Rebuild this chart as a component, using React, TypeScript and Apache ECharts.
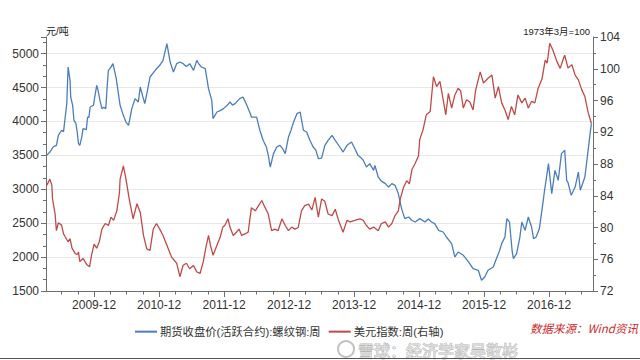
import React, { useEffect, useRef } from "react";
import * as echarts from "echarts";

// Rebar futures close (active contract), weekly, CNY/ton  [fractional year, value]
const rebarPrice: [number, number][] = [
  [2009.24,3500],[2009.29,3549],[2009.34,3623],[2009.39,3648],[2009.42,3795],[2009.47,3870],[2009.50,3850],[2009.52,4017],[2009.55,4267],[2009.57,4803],[2009.60,4606],[2009.61,4360],[2009.64,4238],[2009.66,4017],[2009.69,3972],[2009.71,3844],[2009.73,3673],[2009.75,3648],[2009.78,3770],[2009.80,3894],[2009.85,3880],[2009.87,4065],[2009.89,4060],[2009.91,4213],[2009.96,4238],[2009.98,4360],
  [2010.01,4533],[2010.03,4460],[2010.06,4311],[2010.09,4189],[2010.12,4210],[2010.15,4189],[2010.17,4500],[2010.19,4754],[2010.23,4800],[2010.26,4852],[2010.31,4636],[2010.37,4238],[2010.42,4090],[2010.46,3990],[2010.50,3943],[2010.55,4189],[2010.60,4337],[2010.65,4287],[2010.68,4508],[2010.71,4400],[2010.75,4263],[2010.79,4450],[2010.83,4655],[2010.91,4754],[2010.98,4828],
  [2011.03,4901],[2011.09,5147],[2011.14,4876],[2011.19,4729],[2011.24,4852],[2011.29,4876],[2011.34,4852],[2011.39,4810],[2011.44,4852],[2011.50,4754],[2011.55,4901],[2011.58,4850],[2011.62,4803],[2011.68,4779],[2011.73,4484],[2011.78,4311],[2011.80,4042],[2011.86,4139],[2011.91,4160],[2011.96,4189],
  [2012.01,4230],[2012.06,4287],[2012.10,4240],[2012.14,4263],[2012.21,4337],[2012.26,4360],[2012.32,4238],[2012.37,4120],[2012.39,4065],[2012.47,4065],[2012.52,3870],[2012.57,3722],[2012.62,3623],[2012.65,3500],[2012.68,3328],[2012.73,3526],[2012.78,3623],[2012.83,3648],[2012.87,3600],[2012.91,3526],[2012.96,3770],
  [2013.00,3870],[2013.03,3968],[2013.09,4115],[2013.14,4139],[2013.19,3870],[2013.24,3844],[2013.29,3722],[2013.34,3623],[2013.38,3580],[2013.42,3452],[2013.47,3460],[2013.52,3648],[2013.57,3722],[2013.63,3795],[2013.68,3722],[2013.75,3623],[2013.80,3549],[2013.86,3648],[2013.93,3697],[2013.98,3600],
  [2014.03,3500],[2014.07,3470],[2014.11,3427],[2014.16,3328],[2014.21,3378],[2014.27,3279],[2014.29,3353],[2014.34,3181],[2014.39,3120],[2014.45,3083],[2014.50,3033],[2014.55,3083],[2014.60,3058],[2014.65,2936],[2014.70,2715],[2014.75,2567],[2014.81,2591],[2014.86,2540],[2014.91,2517],[2014.98,2567],
  [2015.06,2517],[2015.11,2560],[2015.16,2517],[2015.21,2493],[2015.27,2395],[2015.34,2370],[2015.39,2296],[2015.47,2199],[2015.52,2001],[2015.57,2075],[2015.65,2026],[2015.73,1928],[2015.80,1830],[2015.88,1805],[2015.93,1658],[2015.98,1706],
  [2016.03,1805],[2016.11,1854],[2016.16,1978],[2016.21,2100],[2016.24,2199],[2016.29,2296],[2016.32,2567],[2016.36,2517],[2016.40,2100],[2016.42,1978],[2016.47,2051],[2016.52,2296],[2016.55,2517],[2016.60,2395],[2016.65,2591],[2016.70,2444],[2016.73,2272],[2016.77,2296],[2016.82,2420],[2016.88,2837],[2016.90,2985],[2016.96,3378],
  [2017.01,2936],[2017.06,3279],[2017.11,3132],[2017.16,3526],[2017.21,3574],[2017.24,3132],[2017.26,3100],[2017.31,2911],[2017.37,3033],[2017.42,3254],[2017.45,2985],[2017.52,3181],[2017.57,3574],[2017.60,3820],[2017.62,3968],
];

// US dollar index, weekly (right axis)  [fractional year, value]
const usdIndex: [number, number][] = [
  [2009.24,85.3],[2009.29,86.1],[2009.32,85.3],[2009.33,83.6],[2009.37,81.7],[2009.39,79.6],[2009.42,80.6],[2009.47,80.3],[2009.50,79.2],[2009.52,78.9],[2009.57,78.2],[2009.60,78.6],[2009.63,77.4],[2009.68,76.7],[2009.71,76.6],[2009.73,76.9],[2009.75,75.7],[2009.80,76.1],[2009.86,75.3],[2009.90,75.05],[2009.93,76.5],[2009.97,77.9],
  [2010.01,77.4],[2010.05,78.2],[2010.09,79.8],[2010.14,80.5],[2010.19,80.25],[2010.23,81.3],[2010.27,80.9],[2010.32,82.1],[2010.36,84.4],[2010.37,86.1],[2010.42,87.75],[2010.46,86.1],[2010.51,83.6],[2010.57,81.1],[2010.63,83.0],[2010.68,81.9],[2010.73,79.0],[2010.78,77.3],[2010.83,77.1],[2010.88,79.8],[2010.93,80.5],[2010.98,79.8],
  [2011.03,79.0],[2011.09,77.75],[2011.16,76.3],[2011.24,75.5],[2011.29,73.8],[2011.34,75.25],[2011.39,75.5],[2011.44,74.8],[2011.50,75.2],[2011.55,74.4],[2011.60,74.2],[2011.65,75.7],[2011.69,77.5],[2011.73,79.0],[2011.76,77.75],[2011.80,76.5],[2011.86,77.75],[2011.91,78.8],[2011.95,80.05],[2011.98,80.25],
  [2012.03,81.1],[2012.06,80.05],[2012.11,79.0],[2012.16,79.4],[2012.20,79.8],[2012.24,79.0],[2012.29,79.2],[2012.34,79.4],[2012.39,82.5],[2012.45,82.1],[2012.50,82.75],[2012.55,83.4],[2012.60,82.5],[2012.65,81.7],[2012.70,79.6],[2012.75,79.8],[2012.80,79.6],[2012.86,81.1],[2012.91,80.25],[2012.96,79.6],
  [2013.01,80.05],[2013.06,79.8],[2013.11,80.0],[2013.16,82.1],[2013.21,82.75],[2013.27,82.95],[2013.32,82.2],[2013.37,83.8],[2013.42,81.3],[2013.47,83.6],[2013.52,83.3],[2013.57,81.7],[2013.63,81.5],[2013.68,82.3],[2013.73,80.9],[2013.80,79.4],[2013.86,80.9],[2013.91,80.7],[2013.98,80.9],
  [2014.06,81.1],[2014.11,80.9],[2014.16,80.25],[2014.21,79.8],[2014.27,80.05],[2014.34,79.6],[2014.39,80.5],[2014.45,80.7],[2014.50,80.05],[2014.55,80.5],[2014.60,81.5],[2014.65,82.1],[2014.68,83.6],[2014.73,85.05],[2014.78,85.9],[2014.82,85.5],[2014.86,87.3],[2014.91,88.1],[2014.96,89.0],[2014.98,91.1],
  [2015.03,92.3],[2015.08,94.2],[2015.14,94.6],[2015.19,99.0],[2015.24,97.75],[2015.29,98.4],[2015.34,96.1],[2015.38,94.2],[2015.42,96.9],[2015.47,95.05],[2015.52,96.7],[2015.57,97.55],[2015.61,97.2],[2015.65,95.05],[2015.70,96.1],[2015.75,95.8],[2015.80,94.8],[2015.84,97.3],[2015.91,99.6],[2015.96,98.2],
  [2016.03,98.8],[2016.09,99.2],[2016.14,96.3],[2016.19,97.75],[2016.24,95.7],[2016.29,94.8],[2016.34,93.6],[2016.39,95.25],[2016.44,94.2],[2016.49,96.7],[2016.55,95.7],[2016.60,96.3],[2016.65,95.05],[2016.70,95.9],[2016.75,95.7],[2016.80,97.5],[2016.86,98.7],[2016.91,101.1],[2016.94,100.7],[2016.98,103.2],
  [2017.03,102.3],[2017.09,100.9],[2017.14,100.05],[2017.19,101.3],[2017.21,101.7],[2017.26,100.1],[2017.32,100.5],[2017.37,99.2],[2017.42,98.6],[2017.47,97.4],[2017.52,96.5],[2017.57,94.5],[2017.62,93.1],
];

const labelYears = [2009, 2010, 2011, 2012, 2013, 2014, 2015, 2016];
const tickLabels = ["2009-12", "2010-12", "2011-12", "2012-12", "2013-12", "2014-12", "2015-12", "2016-12"];
const X_MIN = 2009.23;
const X_MAX = 2017.645;
const DEC_OFFSET = 0.97; // last week of December
const QUARTER_OFFSETS = [0.22, 0.47, 0.72, 0.97];

const seriesNames = ["期货收盘价(活跃合约):螺纹钢:周", "美元指数:周(右轴)"];
const FONT = "'Liberation Sans', 'Noto Sans CJK SC', sans-serif";
const AXIS_COLOR = "#6e6e6e";

export default function App() {
  const ref = useRef<HTMLDivElement>(null);
  useEffect(() => {
    if (!ref.current) return;
    const chart = echarts.init(ref.current, undefined, { renderer: "svg" });
    const majorTicks = labelYears.map((y) => y + DEC_OFFSET);
    const minorTicks: number[] = [];
    for (let y = 2009; y <= 2017; y++) {
      QUARTER_OFFSETS.forEach((o) => {
        const v = +(y + o).toFixed(2);
        if (v > X_MIN && v < X_MAX) minorTicks.push(v);
      });
    }
    chart.setOption({
      animation: false,
      backgroundColor: "#ffffff",
      textStyle: { fontFamily: FONT },
      grid: { left: 46, right: 47, top: 37, height: 254 },
      legend: {
        left: 130,
        top: 321,
        itemWidth: 22,
        itemHeight: 2,
        itemGap: 8,
        icon: "rect",
        textStyle: { fontSize: 11.3, color: "#333", fontFamily: FONT, padding: [0, 0, 0, -2] },
        data: seriesNames,
      },
      xAxis: [
        {
          type: "value",
          min: X_MIN,
          max: X_MAX,
          axisLine: { show: true, onZero: false, lineStyle: { color: AXIS_COLOR, width: 1 } },
          axisTick: { show: true, length: 6, customValues: majorTicks, lineStyle: { color: AXIS_COLOR } },
          axisLabel: {
            show: true,
            customValues: majorTicks,
            margin: 8,
            fontSize: 12,
            color: "#333",
            fontFamily: FONT,
            formatter: (v: number) => {
              const i = labelYears.indexOf(Math.round(v - DEC_OFFSET));
              return i >= 0 ? tickLabels[i] : "";
            },
          },
          splitLine: { show: false },
        },
        {
          type: "value",
          min: X_MIN,
          max: X_MAX,
          position: "bottom",
          axisLine: { show: false },
          axisTick: { show: true, length: 3.5, customValues: minorTicks, lineStyle: { color: AXIS_COLOR } },
          axisLabel: { show: false },
          splitLine: { show: false },
        },
      ],
      yAxis: [
        {
          type: "value",
          min: 1500,
          max: 5245,
          interval: 500,
          position: "left",
          name: "元/吨",
          nameLocation: "end",
          nameGap: 6,
          nameTextStyle: { fontSize: 10, color: "#222", align: "left", verticalAlign: "middle", fontFamily: FONT },
          axisLine: { show: true, lineStyle: { color: AXIS_COLOR } },
          axisTick: { show: true, length: 5, lineStyle: { color: AXIS_COLOR } },
          minorTick: { show: true, splitNumber: 3, length: 3, lineStyle: { color: AXIS_COLOR } },
          axisLabel: {
            fontSize: 12,
            color: "#333",
            margin: 7,
            showMaxLabel: false,
            fontFamily: FONT,
            formatter: (v: number) => String(v),
          },
          splitLine: { show: true, showMaxLine: false, lineStyle: { color: "#e8e8e8", width: 1 } },
        },
        {
          type: "value",
          min: 72,
          max: 104,
          interval: 4,
          position: "right",
          name: "1973年3月=100",
          nameLocation: "end",
          nameGap: 6,
          nameTextStyle: { fontSize: 9.5, color: "#222", align: "right", verticalAlign: "middle", fontFamily: FONT, padding: [0, 3, 0, 0] },
          axisLine: { show: true, lineStyle: { color: AXIS_COLOR } },
          axisTick: { show: true, length: 5, lineStyle: { color: AXIS_COLOR } },
          minorTick: { show: true, splitNumber: 2, length: 3, lineStyle: { color: AXIS_COLOR } },
          axisLabel: { fontSize: 12, color: "#333", margin: 7, fontFamily: FONT, formatter: (v: number) => String(v) },
          splitLine: { show: false },
        },
      ],
      series: [
        {
          name: seriesNames[0],
          type: "line",
          xAxisIndex: 0,
          yAxisIndex: 0,
          showSymbol: false,
          symbol: "none",
          lineStyle: { color: "#4a7ebb", width: 1.3 },
          itemStyle: { color: "#4a7ebb" },
          data: rebarPrice,
        },
        {
          name: seriesNames[1],
          type: "line",
          xAxisIndex: 0,
          yAxisIndex: 1,
          showSymbol: false,
          symbol: "none",
          lineStyle: { color: "#be4b48", width: 1.3 },
          itemStyle: { color: "#be4b48" },
          data: usdIndex,
        },
      ],
      graphic: [
        {
          type: "circle",
          z: 100,
          shape: { cx: 346, cy: 349, r: 8 },
          style: { fill: "rgba(255,255,255,0.4)", stroke: "rgba(120,120,120,0.45)", lineWidth: 2 },
        },
        {
          type: "text",
          z: 100,
          x: 358,
          y: 349.5,
          style: {
            text: "雪球：经济学家吴敬彬",
            fontSize: 16,
            fontFamily: "'Noto Sans CJK SC', sans-serif",
            fill: "rgba(255,255,255,0.55)",
            stroke: "rgba(110,110,110,0.5)",
            lineWidth: 1,
            verticalAlign: "middle",
          },
        },
        {
          type: "text",
          z: 101,
          x: 530,
          y: 328,
          style: {
            text: "数据来源：Wind资讯",
            fontSize: 11.5,
            fontStyle: "italic",
            fontFamily: "'Noto Sans CJK SC', sans-serif",
            fill: "#cc2a2a",
            verticalAlign: "middle",
          },
        },
        {
          type: "line",
          z: 100,
          shape: { x1: 0, y1: 358.5, x2: 640, y2: 358.5 },
          style: { stroke: "#555", lineWidth: 1 },
        },
      ],
    });
    return () => chart.dispose();
  }, []);
  return (
    <div
      ref={ref}
      style={{ position: "fixed", left: 0, top: 0, width: 640, height: 360, background: "#fff" }}
    />
  );
}
